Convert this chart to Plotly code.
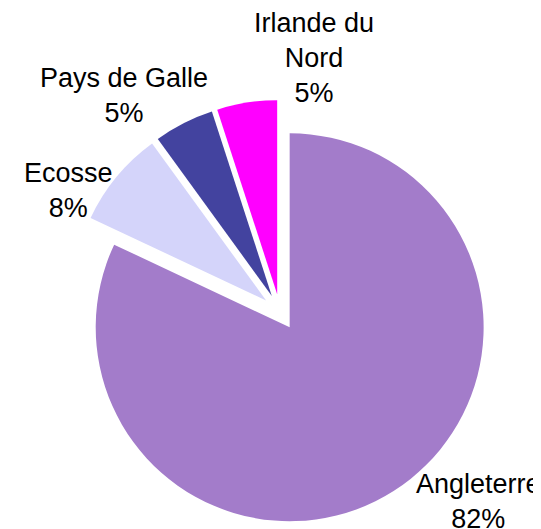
import plotly.graph_objects as go

# ---- data ----
labels = ["Angleterre", "Ecosse", "Pays de Galle", "Irlande du Nord"]
label_wrapped = ["Angleterre", "Ecosse", "Pays de Galle", "Irlande du<br>Nord"]
values = [82, 8, 5, 5]

# ---- styles ----
colors = ["#a37cca", "#d4d4fa", "#43439f", "#ff00ff"]
pulls = [0.093, 0.093, 0.093, 0.093]
# label centre positions in pixels (x, y from top)
label_pos = [(470, 493), (60, 183), (116, 87), (306, 50)]

W, H = 541, 529
total = sum(values)
cx, cy, half = 272.0, 304.0, 212.0

fig = go.Figure(go.Pie(
    labels=labels,
    values=values,
    sort=False,
    direction="clockwise",
    rotation=0,
    pull=pulls,
    marker=dict(colors=colors, line=dict(width=0)),
    textinfo="none",
    hoverinfo="label+percent",
    showlegend=False,
    domain=dict(x=[(cx - half) / W, (cx + half) / W],
                y=[1 - (cy + half) / H, 1 - (cy - half) / H]),
))

annotations = []
for name, v, (px, py) in zip(label_wrapped, values, label_pos):
    pct = round(v / total * 100)
    annotations.append(dict(
        x=px / W, y=1 - py / H, xref="paper", yref="paper",
        xanchor="center", yanchor="middle", showarrow=False,
        text=f"{name}<br>{pct}%",
        font=dict(family="Liberation Sans, Arial, sans-serif", size=27, color="black"),
    ))

fig.update_layout(
    width=W, height=H,
    margin=dict(l=0, r=0, t=0, b=0),
    paper_bgcolor="white",
    plot_bgcolor="white",
    annotations=annotations,
)

fig.write_html("out.html")
